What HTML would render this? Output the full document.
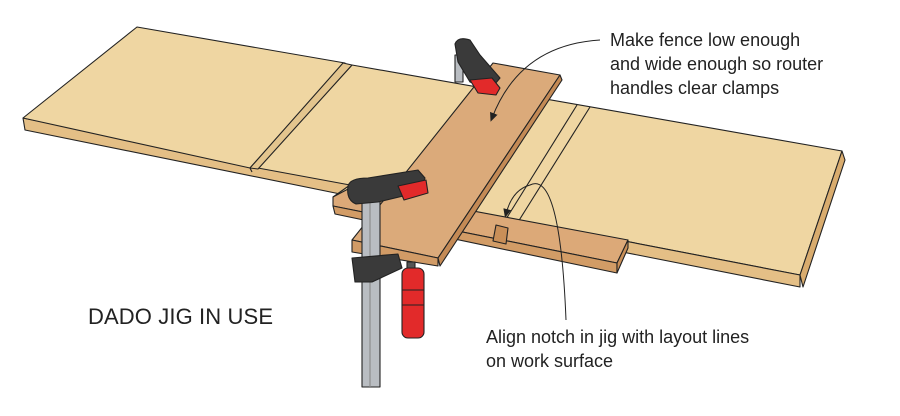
<!DOCTYPE html>
<html><head><meta charset="utf-8"><style>
html,body{margin:0;padding:0;background:#fff;width:900px;height:416px;overflow:hidden}
svg{display:block}
text{font-family:"Liberation Sans",sans-serif;fill:#222}
</style></head><body>
<svg width="900" height="416" viewBox="0 0 900 416" xmlns="http://www.w3.org/2000/svg" stroke-linejoin="round">
<defs><marker id="ah" markerWidth="10" markerHeight="10" refX="5" refY="5" orient="auto"><path d="M0,1 L9,5 L0,9 Z" fill="#222"/></marker></defs>
<g stroke="#222" stroke-width="1.1">
<polygon points="23,118 355,185 355,197 25,130" fill="#e4bf86"/>
<polygon points="23,118 137,27 345,63 250,168" fill="#efd6a2"/>
<polygon points="258,168 352,65 842,151 800,275 475,212 333,197 350,185" fill="#efd6a2"/>
<polygon points="343,63 352,65 258,169 250,168" fill="#e3c58e"/>
<line x1="250" y1="168" x2="252" y2="172"/>
<polygon points="475,212 800,275 800,287 470,222" fill="#e4bf86"/>
<polygon points="842,151 845,160 803,287 800,275" fill="#d9ac6e"/>
<line x1="577" y1="105" x2="493" y2="240"/>
<line x1="590" y1="107" x2="508" y2="238"/>
<polygon points="333,197 350,188 628,240 617,263 333,206" fill="#dca978"/>
<polygon points="333,206 617,263 617,273 335,214" fill="#d29c66"/>
<polygon points="628,240 628,248 617,273 617,263" fill="#c98f58"/>
<polygon points="496,225 508,228 506,244 493,241" fill="#c98f58"/>
<polygon points="493,63 560,75 438,258 352,240" fill="#dbaa7a"/>
<polygon points="352,240 438,258 438,266 352,252" fill="#d19b66"/>
<polygon points="560,75 562,80 440,266 438,258" fill="#c48a55"/>
<rect x="362" y="200" width="18" height="187" fill="#b9bdc2"/>
<line x1="370" y1="200" x2="370" y2="387" stroke="#888"/>
<path d="M352,258 L398,254 L402,268 L372,282 L355,282 Z" fill="#3a3a3a"/>
<rect x="407" y="262" width="8" height="8" fill="#555"/>
<rect x="402" y="268" width="22" height="70" rx="6" fill="#e22a2a"/>
<line x1="402" y1="290" x2="424" y2="290"/>
<line x1="402" y1="305" x2="424" y2="305"/>
<path d="M348,186 Q350,178 368,178 L418,170 L425,178 L420,192 L378,202 L356,204 Q346,200 348,186 Z" fill="#3a3a3a"/>
<polygon points="398,186 426,180 428,193 404,200" fill="#e22a2a"/>
<rect x="455" y="55" width="8" height="27" fill="#b9bdc2"/>
<path d="M455,44 Q458,36 470,40 L480,55 L500,78 L490,90 L470,82 L458,62 Z" fill="#3a3a3a"/>
<polygon points="470,80 492,78 500,88 496,95 478,93" fill="#e22a2a"/>
</g>
<path d="M600,40 Q520,45 492,118" fill="none" stroke="#222" stroke-width="1" marker-end="url(#ah)"/>
<path d="M566,320 Q560,170 530,185 Q512,190 506,214" fill="none" stroke="#222" stroke-width="1" marker-end="url(#ah)"/>
<text x="610" y="46" font-size="18">Make fence low enough</text>
<text x="610" y="70" font-size="18">and wide enough so router</text>
<text x="610" y="94" font-size="18">handles clear clamps</text>
<text x="486" y="343" font-size="18">Align notch in jig with layout lines</text>
<text x="486" y="367" font-size="18">on work surface</text>
<text x="88" y="324" font-size="22" letter-spacing="-1" textLength="184">DADO JIG IN USE</text>
</svg>
</body></html>
